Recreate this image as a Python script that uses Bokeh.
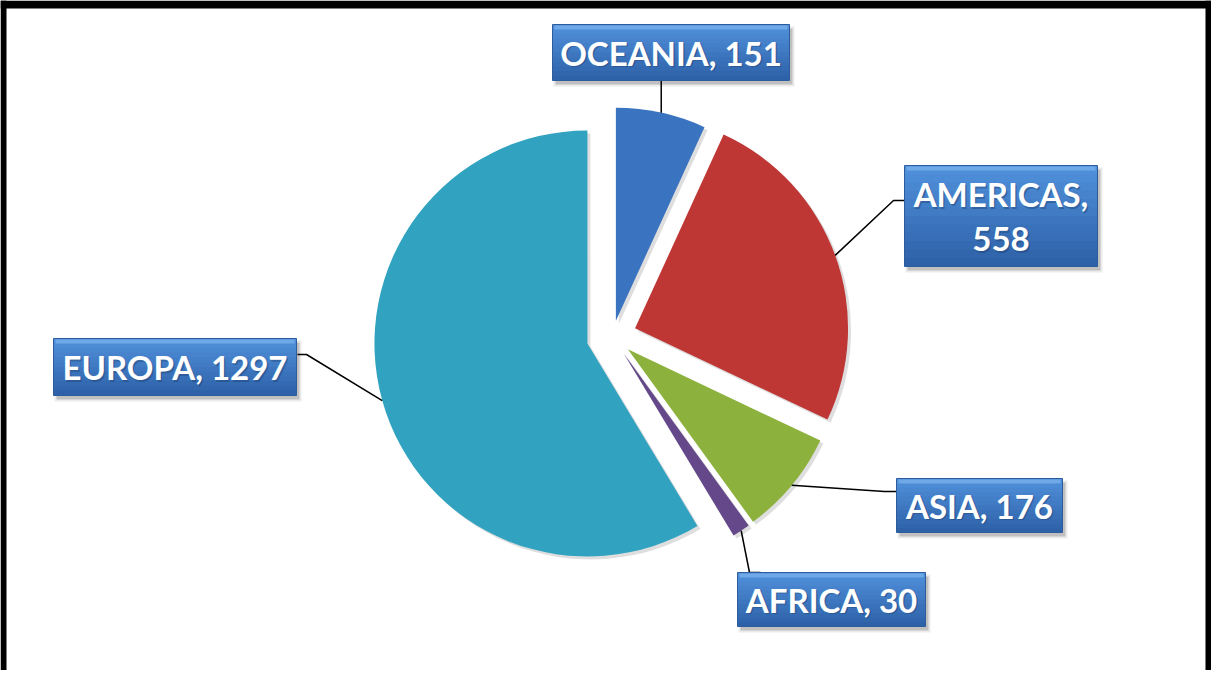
import numpy as np
from bokeh.plotting import figure
from bokeh.models import Range1d
from bokeh.embed import file_html
from bokeh.resources import INLINE
from bokeh.core.properties import value

# ---- data ----
categories = ["OCEANIA", "AMERICAS", "ASIA", "AFRICA", "EUROPA"]
values = [151, 558, 176, 30, 1297]
label_texts = ["OCEANIA, 151", "AMERICAS,\n558", "ASIA, 176", "AFRICA, 30", "EUROPA, 1297"]

# ---- style / layout ----
colors = ["#3A74C0", "#BE3735", "#8CB13C", "#65488A", "#31A3C1"]
explode = [16, 24, 20, 20, 26]
CX, CY, R = 620, 344, 213  # pie centre (page px) and radius

# label boxes: x0, x1, ytop, ybottom (page px)
boxes = [(560, 797, 32, 88), (912, 1105, 173, 274), (904, 1070, 486, 540),
         (745, 933, 580, 634), (61, 304, 346, 403)]
# leader paths after the slice point (page px)
leader_tail = [[(None, 88)], [(901, 208), (912, 208)], [(892, 499), (904, 499)],
               [(757, 580), (768, 580)], [(314, 362), (305, 362)]]

W, H = 1211, 670
p = figure(width=W, height=H, x_range=Range1d(8, 8 + W), y_range=Range1d(-(8 + H), -8),
           output_backend="svg", toolbar_location=None, min_border=0,
           x_axis_location=None, y_axis_location=None)
p.grid.visible = False
p.outline_line_color = None
p.background_fill_color = "white"
p.border_fill_color = "white"

total = float(sum(values))
cum = np.concatenate([[0], np.cumsum(values)]) / total * 2 * np.pi
a0, a1 = cum[:-1], cum[1:]
mid = (a0 + a1) / 2
xs = CX + np.array(explode) * np.sin(mid)
ys = -CY + np.array(explode) * np.cos(mid)
starts = np.pi / 2 - a0
ends = np.pi / 2 - a1

# shadows
p.wedge(x=xs + 3, y=ys - 3, radius=R, start_angle=starts, end_angle=ends, direction="clock",
        fill_color="black", fill_alpha=0.13, line_color=None)
p.wedge(x=xs, y=ys, radius=R, start_angle=starts, end_angle=ends, direction="clock",
        fill_color=colors, line_color=None)

# leader lines
for i in range(len(categories)):
    sx = xs[i] + R * np.sin(mid[i])
    sy = ys[i] + R * np.cos(mid[i])
    lx, ly = [sx], [sy]
    for (px, py) in leader_tail[i]:
        lx.append(sx if px is None else px)
        ly.append(-py)
    p.line(lx, ly, line_color="black", line_width=1.5)

# label boxes
def hexmix(c1, c2, t):
    c1 = [int(c1[k:k + 2], 16) for k in (1, 3, 5)]
    c2 = [int(c2[k:k + 2], 16) for k in (1, 3, 5)]
    return "#%02x%02x%02x" % tuple(int(round(a + (b - a) * t)) for a, b in zip(c1, c2))

for (x0, x1, yt, yb), txt in zip(boxes, label_texts):
    p.quad(left=x0 + 3, right=x1 + 3, top=-(yt + 4), bottom=-(yb + 4), fill_color="black",
           fill_alpha=0.18, line_color=None)
    p.quad(left=x0 + 1, right=x1 + 5, top=-(yt + 2), bottom=-(yb + 6), fill_color="black",
           fill_alpha=0.08, line_color=None)
    n = 12
    edges = np.linspace(yt, yb, n + 1)
    bottoms = [min(e + 2, yb) for e in edges[1:]]
    p.quad(left=[x0] * n, right=[x1] * n, top=list(-edges[:-1]), bottom=[-b for b in bottoms],
           fill_color=[hexmix("#4F8FDA", "#2E62A8", k / (n - 1)) for k in range(n)], line_color=None)
    p.quad(left=x0 + 2, right=x1 - 2, top=-(yt + 1), bottom=-(yt + 5), fill_color="#8CC0F2",
           fill_alpha=0.55, line_color=None)
    p.quad(left=x0, right=x1, top=-yt, bottom=-yb, fill_color=None, line_color="#2D5C9C", line_width=1)
    cx, cy = (x0 + x1) / 2, -(yt + yb) / 2
    p.text(x=[cx + 1.5], y=[cy - 1.5], text=[txt], text_align="center", text_baseline="middle",
           text_font=value("Lato"), text_font_style="bold", text_font_size="33px",
           text_color="#1B3A66", text_alpha=0.4, text_line_height=1.1)
    p.text(x=[cx], y=[cy], text=[txt], text_align="center", text_baseline="middle",
           text_font=value("Lato"), text_font_style="bold", text_font_size="33px",
           text_color="white", text_line_height=1.1)

# outer frame
p.quad(left=8, right=14, top=-8, bottom=-(8 + H), fill_color="black", line_color=None)
p.quad(left=8, right=8 + W, top=-8, bottom=-16, fill_color="black", line_color=None)
p.quad(left=8 + W - 6, right=8 + W, top=-8, bottom=-(8 + H), fill_color="black", line_color=None)

open("out.html", "w").write(file_html(p, INLINE))
